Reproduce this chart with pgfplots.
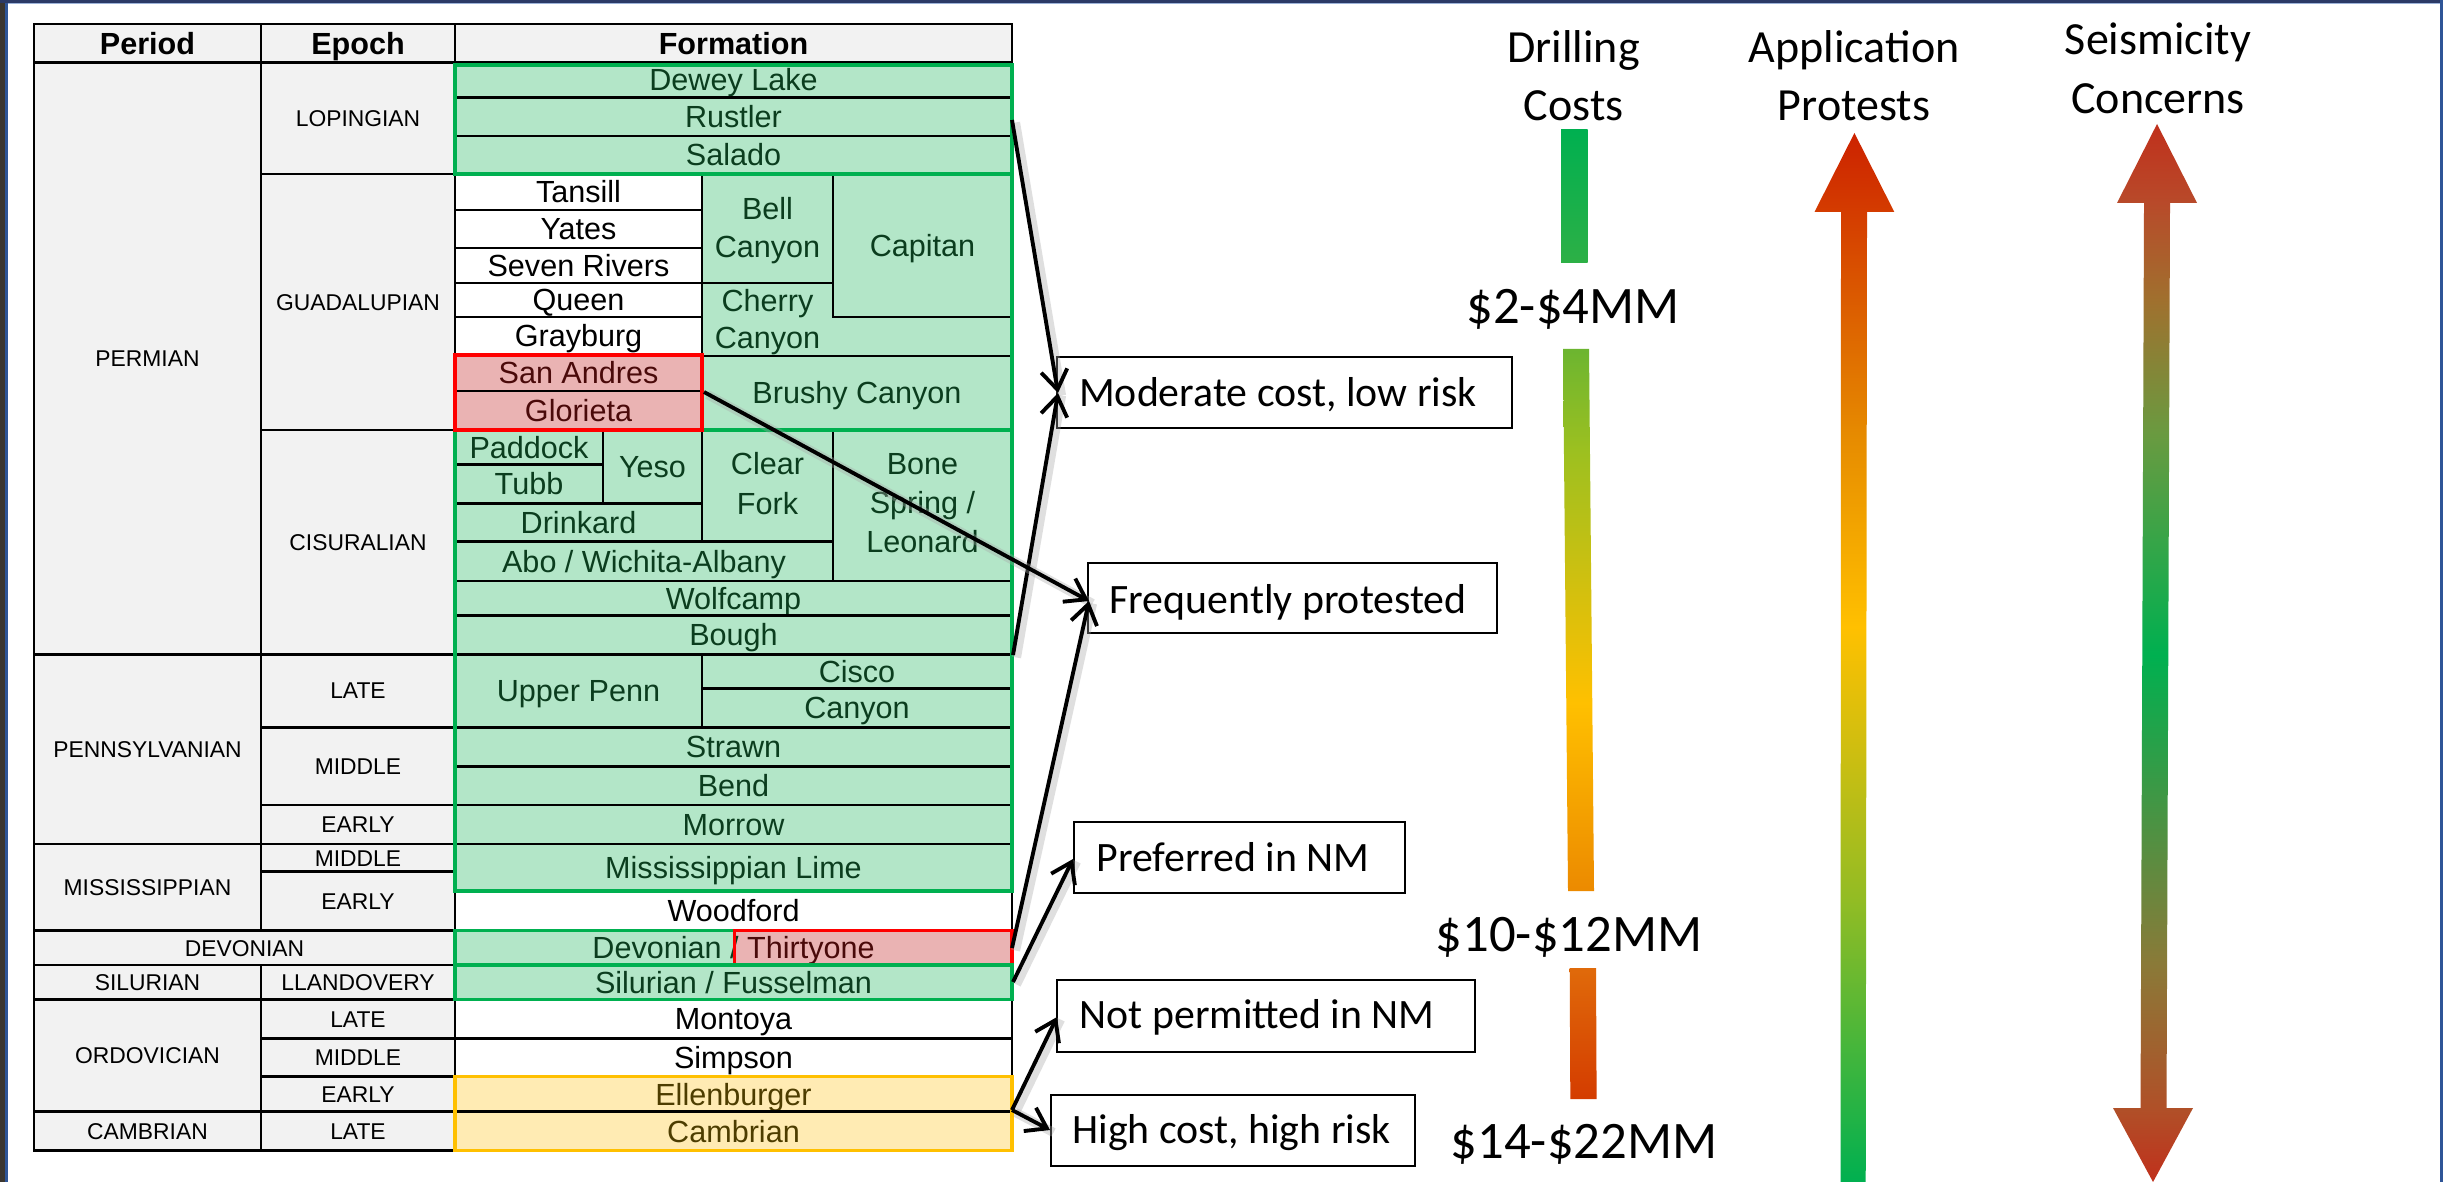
\documentclass[border=0pt]{standalone}
\usepackage{pgfplots}
\pgfplotsset{compat=1.18}
\usepackage{fontspec}
\setmainfont{Liberation Sans}
\newfontfamily\calibri{Carlito}
\usetikzlibrary{arrows.meta,calc}

\definecolor{hdr}{HTML}{F2F2F2}
\definecolor{gfill}{HTML}{B3E6C8}
\definecolor{gline}{HTML}{00B050}
\definecolor{gtext}{HTML}{0B3D1E}
\definecolor{rfill}{HTML}{EAB3B3}
\definecolor{rline}{HTML}{FF0000}
\definecolor{rtext}{HTML}{4A0A0A}
\definecolor{yfill}{HTML}{FFEBB3}
\definecolor{yline}{HTML}{FFC000}
\definecolor{ytext}{HTML}{4D3D00}
% gradient stops
\definecolor{sA}{HTML}{C0301C}
\definecolor{sB}{HTML}{B05028}
\definecolor{sC}{HTML}{8A7A38}
\definecolor{sD}{HTML}{6A9A40}
\definecolor{sE}{HTML}{A0702E}
\definecolor{sF}{HTML}{B84A2A}
\definecolor{aA}{HTML}{92BC24}
\definecolor{aB}{HTML}{E68A00}
\definecolor{aC}{HTML}{D43C00}
\definecolor{aD}{HTML}{CC2200}
\definecolor{dA}{HTML}{EC8A00}
\definecolor{dB}{HTML}{9CC020}
\definecolor{dC}{HTML}{6CB530}
\definecolor{dD}{HTML}{2DB046}
\definecolor{dE}{HTML}{E06A0A}

\pgfdeclareverticalshading{seis}{100bp}{color(0bp)=(sA); color(25bp)=(sA);
  color(28.5bp)=(sB); color(35.35bp)=(sC); color(49.9bp)=(gline);
  color(60.4bp)=(sD); color(66.7bp)=(sE); color(71.27bp)=(sF);
  color(75bp)=(sA); color(100bp)=(sA)}
\pgfdeclareverticalshading{appl}{100bp}{color(0bp)=(gline); color(25bp)=(gline);
  color(38.44bp)=(aA); color(51.45bp)=(yline); color(60.7bp)=(aB);
  color(71.23bp)=(aC); color(75bp)=(aD); color(100bp)=(aD)}
\pgfdeclareverticalshading{drill}{100bp}{color(0bp)=(dA); color(25bp)=(dA);
  color(42.4bp)=(yline); color(65.7bp)=(dB); color(75bp)=(dC); color(100bp)=(dC)}

\newcommand{\ftab}{\fontsize{8.7}{10}\selectfont}
\newcommand{\fep}{\fontsize{6.5}{8}\selectfont}
\newcommand{\fbx}{\calibri\fontsize{11.9}{14}\selectfont}
\newcommand{\fhd}{\calibri\fontsize{13.1}{15}\selectfont}
\newcommand{\fcost}{\calibri\fontsize{15}{17}\selectfont}

% formation cell: x1 y1 x2 y2 fill textcolor text
\newcommand{\fcell}[7]{%
  \draw[line width=0.7pt, fill=#5] (axis cs:#1,#2) rectangle (axis cs:#3,#4);
  \node[anchor=base, text=#6, font=\ftab, inner sep=0pt]
    at ($(axis cs:#1,#2)!0.5!(axis cs:#3,#4)+(0,-1.09mm)$) {#7};}
% period / epoch cell
\newcommand{\pcell}[5]{%
  \draw[line width=0.8pt, fill=hdr] (axis cs:#1,#2) rectangle (axis cs:#3,#4);
  \node[anchor=base, font=\fep, inner sep=0pt]
    at ($(axis cs:#1,#2)!0.5!(axis cs:#3,#4)+(0,-0.82mm)$) {#5};}
% single text line at baseline
\newcommand{\lbl}[4]{%
  \node[anchor=base, text=#3, font=\ftab, inner sep=0pt] at (axis cs:#1,#2) {#4};}
% note box
\newcommand{\note}[7]{%
  \draw[line width=0.6pt, fill=white] (axis cs:#1,#2) rectangle (axis cs:#3,#4);
  \node[anchor=base west, font=\fbx, inner sep=0pt] at (axis cs:#5,#6) {#7};}
% arrow with a soft shadow
\newcommand{\link}[4]{%
  \draw[line width=2.6pt, black!35, opacity=0.35, shift={(0.35mm,-0.25mm)}]
    (axis cs:#1,#2) -- (axis cs:#3,#4);
  \draw[line width=1.1pt, -{Straight Barb[length=5.5pt,width=7.5pt]}]
    (axis cs:#1,#2) -- (axis cs:#3,#4);}

\begin{document}
\begin{tikzpicture}
\begin{axis}[width=24.43cm, height=11.82cm, scale only axis,
  xmin=0, xmax=2443, ymin=0, ymax=1182, y dir=reverse,
  hide axis, clip=false]
\addplot[draw=none] coordinates {(0,0) (2443,1182)};

% frame of the slide
\fill[fill=white] (axis cs:0,0) rectangle (axis cs:2443,1182);
\fill[fill={rgb,255:red,59;green,54;blue,48}] (axis cs:0,0) rectangle (axis cs:5,1182);
\fill[fill={rgb,255:red,47;green,85;blue,151}] (axis cs:5,0) rectangle (axis cs:7.5,1182);
\fill[fill={rgb,255:red,43;green,58;blue,102}] (axis cs:0,0) rectangle (axis cs:2443,3);
\fill[fill={rgb,255:red,157;green,179;blue,217}] (axis cs:7.5,3) rectangle (axis cs:2440,4.5);
\fill[fill={rgb,255:red,47;green,85;blue,151}] (axis cs:2440,0) rectangle (axis cs:2443,1182);

% header row
\draw[line width=0.8pt, fill=hdr] (axis cs:34,24) rectangle (axis cs:261,62.3);
\draw[line width=0.8pt, fill=hdr] (axis cs:261,24) rectangle (axis cs:455,62.3);
\draw[line width=0.8pt, fill=hdr] (axis cs:455,24) rectangle (axis cs:1012,62.3);
\node[anchor=base, font=\ftab\bfseries, inner sep=0pt] at (axis cs:147.5,54.2) {Period};
\node[anchor=base, font=\ftab\bfseries, inner sep=0pt] at (axis cs:358,54.2) {Epoch};
\node[anchor=base, font=\ftab\bfseries, inner sep=0pt] at (axis cs:733.5,54.2) {Formation};

% periods and epochs
\pcell{34}{62.3}{261}{654.3}{PERMIAN}
\pcell{261}{62.3}{455}{174}{LOPINGIAN}
\pcell{261}{174}{455}{430}{GUADALUPIAN}
\pcell{261}{430}{455}{654.3}{CISURALIAN}
\pcell{34}{654.3}{261}{844}{PENNSYLVANIAN}
\pcell{261}{654.3}{455}{727.3}{LATE}
\pcell{261}{727.3}{455}{805}{MIDDLE}
\pcell{261}{805}{455}{844}{EARLY}
\pcell{34}{844}{261}{930.7}{MISSISSIPPIAN}
\pcell{261}{844}{455}{871.7}{MIDDLE}
\pcell{261}{871.7}{455}{930.7}{EARLY}
\pcell{34}{930.7}{455}{965}{DEVONIAN}
\pcell{34}{965}{261}{999.3}{SILURIAN}
\pcell{261}{965}{455}{999.3}{LLANDOVERY}
\pcell{34}{999.3}{261}{1111.7}{ORDOVICIAN}
\pcell{261}{999.3}{455}{1038.3}{LATE}
\pcell{261}{1038.3}{455}{1076.7}{MIDDLE}
\pcell{261}{1076.7}{455}{1111.7}{EARLY}
\pcell{34}{1111.7}{261}{1150.7}{CAMBRIAN}
\pcell{261}{1111.7}{455}{1150.7}{LATE}

% formations
\fcell{455}{62.3}{1012}{97.7}{gfill}{gtext}{Dewey Lake}
\fcell{455}{97.7}{1012}{136}{gfill}{gtext}{Rustler}
\fcell{455}{136}{1012}{174}{gfill}{gtext}{Salado}
\fcell{455}{174}{702}{210}{white}{black}{Tansill}
\fcell{455}{210}{702}{248}{white}{black}{Yates}
\fcell{455}{248}{702}{283}{white}{black}{Seven Rivers}
\fcell{455}{283}{702}{317}{white}{black}{Queen}
\fcell{455}{317}{702}{355}{white}{black}{Grayburg}
\fcell{455}{355}{702}{391}{rfill}{rtext}{San Andres}
\fcell{455}{391}{702}{430}{rfill}{rtext}{Glorieta}
\fcell{702}{174}{833}{283}{gfill}{gtext}{}
\lbl{767.5}{220}{gtext}{Bell}
\lbl{767.5}{258}{gtext}{Canyon}
\fcell{833}{174}{1012}{317}{gfill}{gtext}{Capitan}
\draw[line width=0.7pt, fill=gfill] (axis cs:702,283) -- (axis cs:833,283) -- (axis cs:833,317)
  -- (axis cs:1012,317) -- (axis cs:1012,356) -- (axis cs:702,356) -- cycle;
\lbl{767.5}{312}{gtext}{Cherry}
\lbl{767.5}{349}{gtext}{Canyon}
\fcell{702}{356}{1012}{430}{gfill}{gtext}{Brushy Canyon}
\fcell{455}{430}{603}{464.3}{gfill}{gtext}{Paddock}
\fcell{455}{464.3}{603}{503.3}{gfill}{gtext}{Tubb}
\fcell{603}{430}{702}{503.3}{gfill}{gtext}{Yeso}
\fcell{455}{503.3}{702}{541.7}{gfill}{gtext}{Drinkard}
\fcell{702}{430}{833}{541.7}{gfill}{gtext}{}
\lbl{767.5}{475}{gtext}{Clear}
\lbl{767.5}{515}{gtext}{Fork}
\fcell{833}{430}{1012}{581}{gfill}{gtext}{}
\lbl{922.5}{475}{gtext}{Bone}
\lbl{922.5}{514}{gtext}{Spring /}
\lbl{922.5}{553}{gtext}{Leonard}
\fcell{455}{541.7}{833}{581}{gfill}{gtext}{Abo / Wichita-Albany}
\fcell{455}{581}{1012}{615.7}{gfill}{gtext}{Wolfcamp}
\fcell{455}{615.7}{1012}{654.3}{gfill}{gtext}{Bough}
\fcell{455}{654.3}{702}{727.3}{gfill}{gtext}{Upper Penn}
\fcell{702}{654.3}{1012}{688.3}{gfill}{gtext}{Cisco}
\fcell{702}{688.3}{1012}{727.3}{gfill}{gtext}{Canyon}
\fcell{455}{727.3}{1012}{766.5}{gfill}{gtext}{Strawn}
\fcell{455}{766.5}{1012}{805}{gfill}{gtext}{Bend}
\fcell{455}{805}{1012}{844}{gfill}{gtext}{Morrow}
\fcell{455}{844}{1012}{891}{gfill}{gtext}{Mississippian Lime}
\fcell{455}{891}{1012}{930.7}{white}{black}{Woodford}
\fcell{455}{930.7}{734.5}{965}{gfill}{gtext}{}
\fcell{734.5}{930.7}{1012}{965}{rfill}{rtext}{}
\node[anchor=base, font=\ftab, inner sep=0pt] at (axis cs:733.5,958.7)
  {\textcolor{gtext}{Devonian /} \textcolor{rtext}{Thirtyone}};
\fcell{455}{965}{1012}{999.3}{gfill}{gtext}{Silurian / Fusselman}
\fcell{455}{999.3}{1012}{1038.3}{white}{black}{Montoya}
\fcell{455}{1038.3}{1012}{1076.7}{white}{black}{Simpson}
\fcell{455}{1076.7}{1012}{1111.7}{yfill}{ytext}{Ellenburger}
\fcell{455}{1111.7}{1012}{1150.7}{yfill}{ytext}{Cambrian}

% coloured outlines
\draw[line width=0.9pt, gline] (axis cs:455,65) rectangle (axis cs:1012,174);
\draw[line width=0.9pt, gline] (axis cs:702,174) -- (axis cs:1012,174) -- (axis cs:1012,891)
  -- (axis cs:455,891) -- (axis cs:455,430) -- (axis cs:1012,430);
\draw[line width=0.9pt, rline] (axis cs:455,355) rectangle (axis cs:702,430);
\draw[line width=0.9pt, gline] (axis cs:455,930.7) rectangle (axis cs:734.5,965);
\draw[line width=0.9pt, rline] (axis cs:734.5,930.7) rectangle (axis cs:1012,965);
\draw[line width=0.9pt, gline] (axis cs:455,965) rectangle (axis cs:1012,999.3);
\draw[line width=0.9pt, yline] (axis cs:455,1076.7) rectangle (axis cs:1012,1150.7);

% note boxes
\note{1057.4}{357.3}{1511.7}{428.3}{1078.5}{406.7}{Moderate cost, low risk}
\note{1088}{562.7}{1496.7}{633.3}{1109}{613.3}{Frequently protested}
\note{1074}{821.7}{1404.8}{893.3}{1095.7}{871.7}{Preferred in NM}
\note{1057.4}{980}{1475}{1051.7}{1079}{1028.3}{Not permitted in NM}
\note{1051}{1095}{1414.8}{1166}{1071.8}{1143.3}{High cost, high risk}

% arrows from formations to notes
\link{1012}{120}{1058}{393}
\link{1013}{655}{1058}{393}
\link{704}{392}{1089}{601}
\link{1012}{948}{1089}{601}
\link{1013}{982}{1073}{859}
\link{1012}{1110}{1057}{1017}
\link{1012}{1110}{1050}{1130}

% column headings
\node[anchor=base, font=\fhd] at (axis cs:1573.6,62.3) {Drilling};
\node[anchor=base, font=\fhd] at (axis cs:1573.6,120.7) {Costs};
\node[anchor=base, font=\fhd] at (axis cs:1854,62.3) {Application};
\node[anchor=base, font=\fhd] at (axis cs:1854,120.7) {Protests};
\node[anchor=base, font=\fhd] at (axis cs:2158,55) {Seismicity};
\node[anchor=base, font=\fhd] at (axis cs:2158,113.3) {Concerns};

% drilling cost bar
\shade[top color=gline, bottom color=dD] (axis cs:1561,130) rectangle (axis cs:1587.6,263);
\shade[shading=drill] (axis cs:1563,349) -- (axis cs:1589,349) -- (axis cs:1594,891)
  -- (axis cs:1568,891) -- cycle;
\shade[top color=dE, bottom color=aC] (axis cs:1569.7,968) -- (axis cs:1596,968)
  -- (axis cs:1596.6,1099) -- (axis cs:1570.3,1099) -- cycle;
\node[anchor=base, font=\fcost] at (axis cs:1573,323.3) {\$2-\$4MM};
\node[anchor=base, font=\fcost] at (axis cs:1569,951) {\$10-\$12MM};
\node[anchor=base, font=\fcost] at (axis cs:1584,1158.3) {\$14-\$22MM};

% application protests arrow
\shade[shading=appl] (axis cs:1854.4,133) -- (axis cs:1894.3,212) -- (axis cs:1867,212)
  -- (axis cs:1865.7,1182) -- (axis cs:1840.5,1182) -- (axis cs:1841,212)
  -- (axis cs:1814.5,212) -- cycle;

% seismicity concerns double arrow
\shade[shading=seis] (axis cs:2157,124) -- (axis cs:2197,203) -- (axis cs:2170,203)
  -- (axis cs:2166.5,1108) -- (axis cs:2193,1108) -- (axis cs:2153,1182)
  -- (axis cs:2113,1108) -- (axis cs:2140.5,1108) -- (axis cs:2144,203)
  -- (axis cs:2117,203) -- cycle;
\end{axis}
\end{tikzpicture}
\end{document}
